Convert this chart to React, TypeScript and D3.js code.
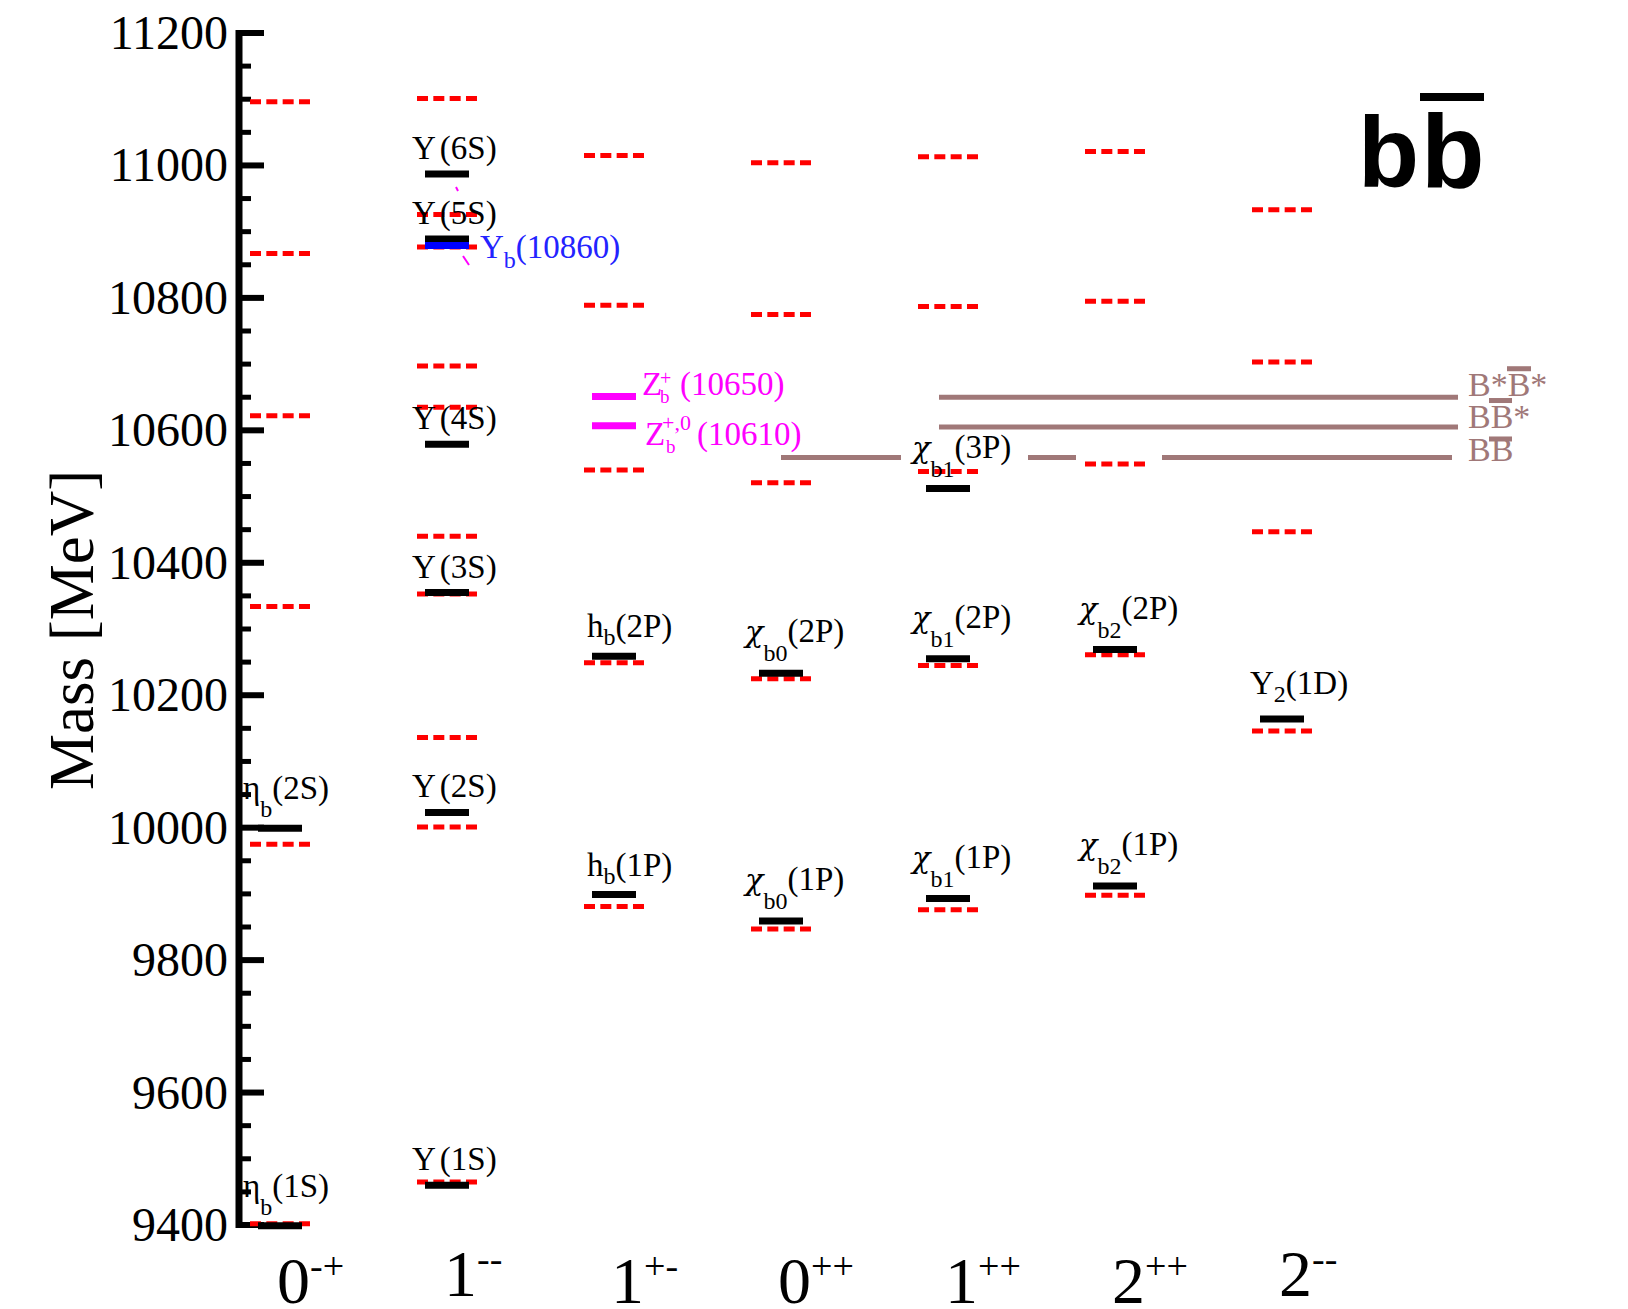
import React from "react";
import * as d3 from "d3";

// ---------- data ----------
// J^PC columns
const jpcDigit = ["0", "1", "1", "0", "1", "2", "2"];
const jpcSign = ["-+", "--", "+-", "++", "++", "++", "--"];

// potential-model predictions (red dashed levels), MeV, one list per column
const predicted0mp = [9402, 9975, 10334, 10622, 10867, 11096];
const predicted1mm = [9465, 10001, 10136, 10353, 10440, 10635, 10697, 10877, 10926, 11101];
const predicted1pm = [9881, 10249, 10540, 10789, 11015];
const predicted0pp = [9847, 10225, 10521, 10775, 11004];
const predicted1pp = [9876, 10245, 10538, 10787, 11013];
const predicted2pp = [9898, 10261, 10549, 10795, 11021];
const predicted2mm = [10146, 10447, 10703, 10933];

// observed bottomonium states (black levels)
const stateColumn = [0, 0, 1, 1, 1, 1, 1, 1, 2, 2, 3, 3, 4, 4, 4, 5, 5, 6];
const stateMass = [
  9399, 9999, 9460, 10023, 10355, 10579, 10889, 10987, 9899, 10259, 9859, 10233,
  9893, 10255, 10512, 9912, 10269, 10164,
];
const stateLabel = [
  "η_{b}(1S)", "η_{b}(2S)", "Υ~(1S)", "Υ~(2S)", "Υ~(3S)", "Υ~(4S)", "Υ~(5S)", "Υ~(6S)",
  "h_{b}(1P)", "h_{b}(2P)", "χ_{b0}(1P)", "χ_{b0}(2P)", "χ_{b1}(1P)", "χ_{b1}(2P)",
  "χ_{b1}(3P)", "χ_{b2}(1P)", "χ_{b2}(2P)", "Υ_{2}(1D)",
];

// exotic states
const ybMass = 10879;
const ybLabel = "Υ_{b}(10860)";
const zbMass = [10651, 10607];
const zbSup = ["+", "+,0"];
const zbTail = ["(10650)", "(10610)"];

// open-bottom thresholds
const thresholdMass = [10650, 10605, 10559];
const thresholdName = ["B*B*", "BB*", "BB"];

// axis ticks
const majorTicks = d3.range(9400, 11201, 200);
const minorTicks = d3.range(9400, 11201, 50).filter((v) => v % 200 !== 0);

// ---------- layout ----------
const W = 1628;
const H = 1309;
const SERIF = "'Liberation Serif', 'Times New Roman', serif";
const GREEK = "'DejaVu Serif', serif";
const RED = "#ff0000";
const BROWN = "#a07878";
const MAGENTA = "#ff00ff";
const BLUE = "#2323ff";

const predictions = [
  predicted0mp, predicted1mm, predicted1pm, predicted0pp, predicted1pp, predicted2pp, predicted2mm,
];

// label placement per family: horizontal offset from column centre,
// baseline offset from the level, subscript drop
function labelStyle(label: string) {
  if (label.startsWith("η")) return { dx: -37, dy: -29, sub: 18 };
  if (label.startsWith("h")) return { dx: -27, dy: -19, sub: 8 };
  if (label.startsWith("χ")) return { dx: -36, dy: -31, sub: 19 };
  if (label.startsWith("Υ_")) return { dx: -32, dy: -25, sub: 8 };
  return { dx: -35, dy: -15, sub: 0 };
}

type Seg = { t: string; kind: "n" | "sub" | "sup" | "gap" };
function parseLabel(s: string): Seg[] {
  const out: Seg[] = [];
  const re = /_\{([^}]*)\}|\^\{([^}]*)\}|(~)|([^_^~]+)/g;
  let m: RegExpExecArray | null;
  while ((m = re.exec(s))) {
    if (m[1] !== undefined) out.push({ t: m[1], kind: "sub" });
    else if (m[2] !== undefined) out.push({ t: m[2], kind: "sup" });
    else if (m[3] !== undefined) out.push({ t: "", kind: "gap" });
    else out.push({ t: m[4], kind: "n" });
  }
  return out;
}

function RichText(props: {
  x: number; y: number; label: string; fs: number; subFs: number; sub: number; fill: string;
}) {
  const segs = parseLabel(props.label);
  let cur = 0;
  let pendingDx = 0;
  const kids: React.ReactNode[] = [];
  segs.forEach((s, i) => {
    if (s.kind === "gap") {
      pendingDx += 4;
      return;
    }
    const target = s.kind === "sub" ? props.sub : s.kind === "sup" ? -props.sub : 0;
    const dy = target - cur;
    cur = target;
    const isChi = s.kind === "n" && s.t === "χ";
    kids.push(
      <tspan
        key={i}
        dy={dy}
        dx={pendingDx}
        fontSize={s.kind === "n" ? (isChi ? props.fs * 0.92 : props.fs) : props.subFs}
        fontFamily={isChi ? GREEK : undefined}
        fontStyle={isChi ? "italic" : undefined}
      >
        {s.t}
      </tspan>
    );
    pendingDx = 0;
  });
  return (
    <text x={props.x} y={props.y} fontFamily={SERIF} fill={props.fill}>
      {kids}
    </text>
  );
}

export default function App() {
  const y = d3.scaleLinear().domain([9400, 11200]).range([1225, 33]);
  const x = d3.scalePoint<number>().domain(d3.range(7)).range([280, 1282]);
  const axisX = 239;
  const predHalf = 30;
  const barHalf = 22;

  // horizontal extents of the threshold lines
  const thresholdSpans: [number, number][][] = [
    [[939, 1458]],
    [[939, 1458]],
    [[781, 901], [1028, 1076], [1162, 1452]],
  ];
  const thresholdLabelX = 1468;
  const thresholdBaseline = [-1, 1, 4];
  // overbars over the anti-B (x from label start, y from threshold level)
  const overbars = [
    { x0: 39, x1: 63, dy: -31 },
    { x0: 21, x1: 44, dy: -29 },
    { x0: 21, x1: 44, dy: -21 },
  ];

  const zbX = [28, 31];
  const zbDy = [-2, 19];
  const zbSupDx = [18, 17];
  const zbSubDx = [18, 21];
  const zbSupDy = [-10, -15];
  const zbSupFs = [20, 22];
  const zbTailDx = [38, 52];

  return (
    <svg
      width={W}
      height={H}
      viewBox={`0 0 ${W} ${H}`}
      style={{ position: "absolute", left: 0, top: 0, background: "#fff" }}
    >
      <rect width={W} height={H} fill="#fff" />

      {/* mass axis */}
      <line x1={axisX} x2={axisX} y1={y(11200) - 3} y2={y(9400) + 3} stroke="#000" strokeWidth={7} />
      {majorTicks.map((v) => (
        <line key={"M" + v} x1={axisX} x2={axisX + 25} y1={y(v)} y2={y(v)} stroke="#000" strokeWidth={6} />
      ))}
      {minorTicks.map((v) => (
        <line key={"m" + v} x1={axisX} x2={axisX + 12} y1={y(v)} y2={y(v)} stroke="#000" strokeWidth={5} />
      ))}
      {majorTicks.map((v) => (
        <text
          key={"t" + v}
          x={228}
          y={y(v) + 16}
          textAnchor="end"
          fontFamily={SERIF}
          fontSize={48}
          fill="#000"
        >
          {v}
        </text>
      ))}
      <text
        transform="translate(93,630) rotate(-90)"
        textAnchor="middle"
        fontFamily={SERIF}
        fontSize={63}
        fill="#000"
      >
        Mass [MeV]
      </text>

      {/* J^PC labels */}
      {jpcDigit.map((d, i) => (
        <text
          key={"j" + i}
          x={(x(i) as number) - 3}
          y={jpcSign[i] === "--" ? 1296 : 1303}
          fontFamily={SERIF}
          fontSize={66}
          fill="#000"
        >
          {d}
          <tspan fontSize={38} dy={-24}>
            {jpcSign[i]}
          </tspan>
        </text>
      ))}

      {/* thresholds */}
      {thresholdMass.map((m, i) => (
        <g key={"th" + i}>
          {thresholdSpans[i].map(([a, b], k) => (
            <line key={k} x1={a} x2={b} y1={y(m)} y2={y(m)} stroke={BROWN} strokeWidth={5} />
          ))}
          <text
            x={thresholdLabelX}
            y={y(m) + thresholdBaseline[i]}
            fontFamily={SERIF}
            fontSize={34}
            fill={BROWN}
          >
            {thresholdName[i]}
          </text>
          <rect
            x={thresholdLabelX + overbars[i].x0}
            width={overbars[i].x1 - overbars[i].x0}
            y={y(m) + overbars[i].dy}
            height={5}
            fill={BROWN}
          />
        </g>
      ))}

      {/* predicted levels */}
      {predictions.map((list, c) =>
        list.map((m, k) => (
          <line
            key={"p" + c + "-" + k}
            x1={(x(c) as number) - predHalf}
            x2={(x(c) as number) + predHalf}
            y1={y(m)}
            y2={y(m)}
            stroke={RED}
            strokeWidth={5}
            strokeDasharray="11 5.33"
          />
        ))
      )}

      {/* observed levels */}
      {stateMass.map((m, i) => (
        <line
          key={"s" + i}
          x1={(x(stateColumn[i]) as number) - barHalf}
          x2={(x(stateColumn[i]) as number) + barHalf}
          y1={y(m)}
          y2={y(m)}
          stroke="#000"
          strokeWidth={7}
        />
      ))}

      {/* Υb(10860) */}
      <line
        x1={(x(1) as number) - barHalf}
        x2={(x(1) as number) + barHalf}
        y1={y(ybMass)}
        y2={y(ybMass)}
        stroke="#0000ff"
        strokeWidth={7}
      />
      <line x1={456} y1={187} x2={458} y2={191} stroke={MAGENTA} strokeWidth={2} />
      <line x1={463} y1={256} x2={469} y2={265} stroke={MAGENTA} strokeWidth={2} />
      <RichText
        x={(x(1) as number) + 33}
        y={y(ybMass) + 12}
        label={ybLabel}
        fs={33}
        subFs={24}
        sub={10}
        fill={BLUE}
      />

      {/* Zb states */}
      {zbMass.map((m, i) => {
        const x0 = (x(2) as number) + zbX[i];
        const base = y(m) + zbDy[i];
        return (
          <g key={"z" + i} fontFamily={SERIF} fill={MAGENTA}>
            <line
              x1={(x(2) as number) - barHalf}
              x2={(x(2) as number) + barHalf}
              y1={y(m)}
              y2={y(m)}
              stroke={MAGENTA}
              strokeWidth={7}
            />
            <text x={x0} y={base} fontSize={33}>Z</text>
            <text x={x0 + zbSupDx[i]} y={base + zbSupDy[i]} fontSize={zbSupFs[i]}>{zbSup[i]}</text>
            <text x={x0 + zbSubDx[i]} y={base + 8} fontSize={19}>b</text>
            <text x={x0 + zbTailDx[i]} y={base} fontSize={33}>{zbTail[i]}</text>
          </g>
        );
      })}

      {/* state labels */}
      {stateLabel.map((lab, i) => {
        const st = labelStyle(lab);
        return (
          <RichText
            key={"l" + i}
            x={(x(stateColumn[i]) as number) + st.dx}
            y={y(stateMass[i]) + st.dy}
            label={lab}
            fs={33}
            subFs={24}
            sub={st.sub}
            fill="#000"
          />
        );
      })}

      {/* flavour tag */}
      <g fontFamily="'Liberation Sans', Arial, sans-serif" fontWeight="bold" fill="#000">
        <text x={1358} y={187} fontSize={100}>b</text>
        <text x={1421} y={187} fontSize={104}>b</text>
        <rect x={1420} y={93} width={64} height={8} />
      </g>
    </svg>
  );
}
